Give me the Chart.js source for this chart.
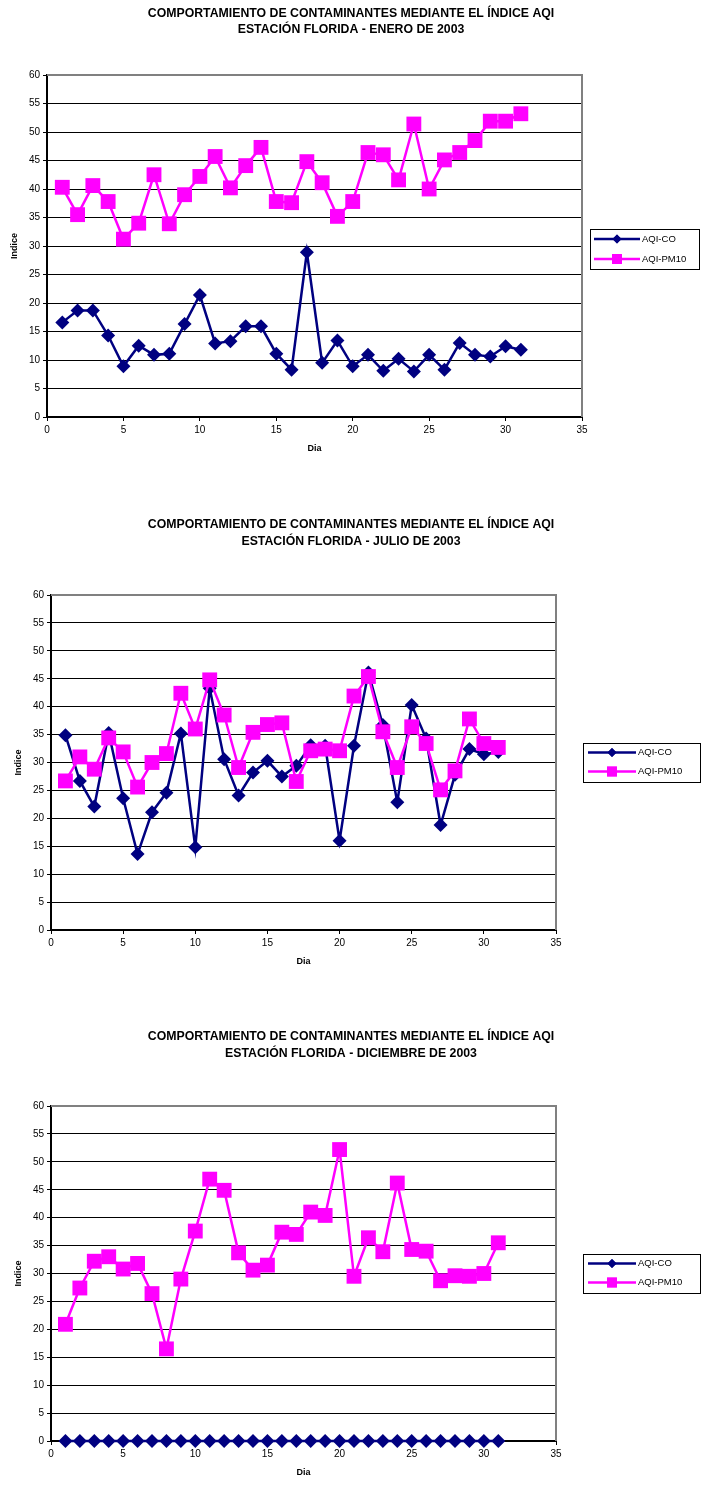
<!DOCTYPE html>
<html>
<head>
<meta charset="utf-8">
<script src="https://cdn.jsdelivr.net/npm/chart.js@4.4.0/dist/chart.umd.min.js"></script>
<style>
body{margin:0;background:#fff;width:703px;height:1485px;position:relative;overflow:hidden;}
.box{position:absolute;left:0;width:703px;}
</style>
</head>
<body>
<div class="box" style="top:0px;height:480px"><canvas id="chart1" width="703" height="480"></canvas></div>
<div class="box" style="top:490px;height:490px"><canvas id="chart2" width="703" height="490"></canvas></div>
<div class="box" style="top:1000px;height:485px"><canvas id="chart3" width="703" height="485"></canvas></div>
<script>
// dias del mes
var days = [1,2,3,4,5,6,7,8,9,10,11,12,13,14,15,16,17,18,19,20,21,22,23,24,25,26,27,28,29,30,31];
var seriesNames = ['AQI-CO', 'AQI-PM10'];
var xTicks = [0, 5, 10, 15, 20, 25, 30, 35];
var yTicks = [0, 5, 10, 15, 20, 25, 30, 35, 40, 45, 50, 55, 60];

// Enero 2003
var eneroCO = [16.6,18.7,18.7,14.3,8.9,12.5,10.9,11.1,16.3,21.4,12.9,13.3,15.9,15.9,11.1,8.3,28.9,9.5,13.4,8.9,10.9,8.1,10.2,8.0,10.9,8.3,13.0,10.9,10.6,12.4,11.8];
var eneroPM10 = [40.3,35.5,40.6,37.8,31.2,34.0,42.5,33.9,39.0,42.2,45.7,40.2,44.1,47.3,37.8,37.6,44.8,41.1,35.2,37.8,46.4,46.0,41.6,51.4,40.0,45.1,46.4,48.5,51.9,51.9,53.2];

// Julio 2003
var julioCO = [34.9,26.7,22.1,35.3,23.6,13.6,21.1,24.6,35.2,14.8,43.3,30.6,24.1,28.2,30.3,27.5,29.4,33.1,33.0,16.0,33.0,46.1,36.7,22.9,40.3,34.3,18.8,27.8,32.4,31.5,31.9];
var julioPM10 = [26.7,31.0,28.8,34.4,31.9,25.6,30.0,31.6,42.4,36.0,44.8,38.5,29.1,35.4,36.8,37.1,26.6,32.1,32.4,32.1,41.9,45.4,35.5,29.1,36.4,33.4,25.1,28.5,37.8,33.4,32.7];

// Diciembre 2003
var diciembreCO = [0,0,0,0,0,0,0,0,0,0,0,0,0,0,0,0,0,0,0,0,0,0,0,0,0,0,0,0,0,0,0];
var diciembrePM10 = [20.9,27.4,32.2,33.0,30.8,31.8,26.4,16.5,29.0,37.6,46.9,44.9,33.7,30.6,31.5,37.4,37.0,41.0,40.4,52.2,29.5,36.4,33.9,46.2,34.3,34.0,28.7,29.6,29.5,30.0,35.5];

var titleLine1 = 'COMPORTAMIENTO DE CONTAMINANTES MEDIANTE EL ÍNDICE AQI';
var FONT = 'Arial, "Liberation Sans", sans-serif';
var CO_COLOR = '#000080';
var PM_COLOR = '#FF00FF';

var extras = {
  id: 'extras',
  beforeDatasetsDraw: function(chart) {
    var ctx = chart.ctx, a = chart.chartArea;
    ctx.save();
    ctx.strokeStyle = '#808080';
    ctx.lineWidth = 2;
    ctx.beginPath();
    ctx.moveTo(a.left, a.top);
    ctx.lineTo(a.right, a.top);
    ctx.lineTo(a.right, a.bottom);
    ctx.stroke();
    ctx.restore();
  },
  afterDraw: function(chart) {
    var g = chart.options.plugins.extras;
    var ctx = chart.ctx, a = chart.chartArea;
    ctx.save();
    ctx.fillStyle = '#000';
    ctx.textAlign = 'center';
    ctx.textBaseline = 'middle';
    ctx.font = 'bold 12.3px ' + FONT;
    ctx.fillText(titleLine1, 351, g.t1);
    ctx.fillText(g.sub, 351, g.t2);

    ctx.font = 'bold 9px ' + FONT;
    ctx.fillText('Dia', (a.left + a.right) / 2, g.xt);
    ctx.save();
    ctx.translate(g.yt, (a.top + a.bottom) / 2);
    ctx.rotate(-Math.PI / 2);
    ctx.fillText('Indice', 0, 0);
    ctx.restore();

    // leyenda
    var L = g.leg;
    ctx.fillStyle = '#fff';
    ctx.fillRect(L.x, L.y, L.w, L.h);
    ctx.strokeStyle = '#000';
    ctx.lineWidth = 1;
    ctx.strokeRect(L.x + 0.5, L.y + 0.5, L.w, L.h);
    var styles = [[CO_COLOR, 'rectRot', 4.5], [PM_COLOR, 'rect', 7]];
    for (var i = 0; i < 2; i++) {
      var y = L.rows[i];
      ctx.strokeStyle = styles[i][0];
      ctx.lineWidth = 2.5;
      ctx.beginPath();
      ctx.moveTo(L.lx1, y);
      ctx.lineTo(L.lx2, y);
      ctx.stroke();
      ctx.fillStyle = styles[i][0];
      Chart.helpers.drawPoint(ctx, {pointStyle: styles[i][1], radius: styles[i][2], borderWidth: 0}, (L.lx1 + L.lx2) / 2, y);
      ctx.fill();
      ctx.fillStyle = '#000';
      ctx.font = '9.5px ' + FONT;
      ctx.textAlign = 'left';
      ctx.fillText(seriesNames[i], L.lx2 + 2, y);
    }
    ctx.restore();
  }
};

function makeChart(id, co, pm10, sub, g) {
  g.sub = sub;
  var coPts = days.map(function(d, i) { return {x: d, y: co[i]}; });
  var pmPts = days.map(function(d, i) { return {x: d, y: pm10[i]}; });
  return new Chart(document.getElementById(id), {
    type: 'line',
    data: {
      datasets: [{
        label: seriesNames[0],
        data: coPts,
        borderColor: CO_COLOR,
        backgroundColor: CO_COLOR,
        borderWidth: 2.5,
        pointStyle: 'rectRot',
        pointRadius: 7,
        pointBorderWidth: 0,
        tension: 0,
        clip: false,
        order: 1
      }, {
        label: seriesNames[1],
        data: pmPts,
        borderColor: PM_COLOR,
        backgroundColor: PM_COLOR,
        borderWidth: 2.5,
        pointStyle: 'rect',
        pointRadius: 10.5,
        pointBorderWidth: 0,
        tension: 0,
        clip: false,
        order: 0
      }]
    },
    options: {
      responsive: false,
      animation: false,
      events: [],
      layout: { padding: { left: 0, right: g.pr, top: g.pt, bottom: 0 } },
      plugins: {
        legend: { display: false },
        tooltip: { enabled: false },
        extras: g
      },
      scales: {
        x: {
          type: 'linear',
          min: xTicks[0],
          max: xTicks[xTicks.length - 1],
          afterBuildTicks: function(s) { s.ticks = xTicks.map(function(v) { return {value: v}; }); },
          afterFit: function(s) { s.height = g.xh; },
          ticks: { color: '#000', padding: 3, font: { size: 10, family: FONT } },
          grid: { drawOnChartArea: false, drawTicks: true, tickLength: 4, color: '#000' },
          border: { color: '#000', width: 2 }
        },
        y: {
          type: 'linear',
          min: yTicks[0],
          max: yTicks[yTicks.length - 1],
          afterBuildTicks: function(s) { s.ticks = yTicks.map(function(v) { return {value: v}; }); },
          afterFit: function(s) { s.width = g.yw; },
          ticks: { color: '#000', padding: 3, font: { size: 10, family: FONT } },
          grid: {
            color: function(c) { return c.tick && c.tick.value === 60 ? 'rgba(0,0,0,0)' : '#000'; },
            tickColor: '#000',
            tickLength: 4,
            lineWidth: 1
          },
          border: { color: '#000', width: 2 }
        }
      }
    },
    plugins: [extras]
  });
}

makeChart('chart1', eneroCO, eneroPM10, 'ESTACIÓN FLORIDA - ENERO DE 2003', {
  pr: 121, pt: 75, yw: 47, xh: 63,
  t1: 14, t2: 30, xt: 449, yt: 15,
  leg: { x: 590, y: 229, w: 109, h: 40, rows: [239, 259], lx1: 594, lx2: 640 }
});
makeChart('chart2', julioCO, julioPM10, 'ESTACIÓN FLORIDA - JULIO DE 2003', {
  pr: 147, pt: 105, yw: 51, xh: 50,
  t1: 35, t2: 52, xt: 472, yt: 19,
  leg: { x: 583, y: 253, w: 117, h: 39, rows: [262.5, 281.5], lx1: 588, lx2: 636 }
});
makeChart('chart3', diciembreCO, diciembrePM10, 'ESTACIÓN FLORIDA - DICIEMBRE DE 2003', {
  pr: 147, pt: 106, yw: 51, xh: 44,
  t1: 37, t2: 54, xt: 473, yt: 19,
  leg: { x: 583, y: 254, w: 117, h: 39, rows: [263.5, 282.5], lx1: 588, lx2: 636 }
});
</script>
</body>
</html>
